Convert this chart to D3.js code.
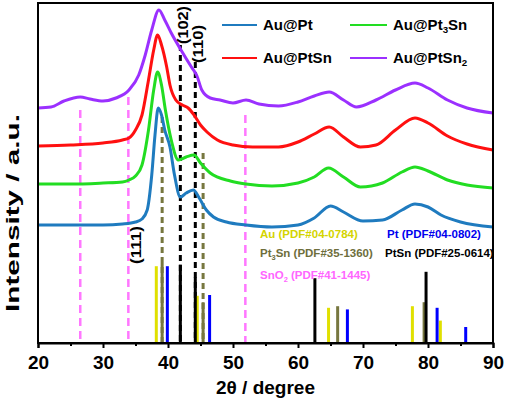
<!DOCTYPE html>
<html>
<head>
<meta charset="utf-8">
<script src="https://cdn.jsdelivr.net/npm/d3@7"></script>
<style>
  body { margin: 0; background: #fff; }
  text { font-family: "Liberation Sans", Arial, sans-serif; font-weight: bold; }
</style>
</head>
<body>
<div id="chart"></div>
<script>
// XRD patterns, 2theta in degrees, intensity in arbitrary units (offset stacked)
var twoTheta = [20, 25, 30, 33, 35, 36, 36.8, 37.5, 38, 38.5, 39, 39.5, 40.3, 41, 41.9, 42.8, 43.9, 44.8, 45.9, 47, 49, 52, 56, 60, 62.5, 65, 67, 70, 73, 76, 78, 80, 82, 85, 90];
var auPt = [118, 118, 118, 119, 121, 124, 133, 168, 208, 235, 228, 213, 196, 168, 146, 150, 153, 145, 133, 126, 121, 118, 116, 118, 125, 137, 131, 122, 123, 133, 139, 136, 128, 121, 116];

var twoThetaPt3Sn = [20, 25, 30, 33, 34, 35, 36, 37, 37.8, 38.4, 39, 39.6, 40.5, 41.6, 42.8, 44, 45, 46.5, 49.6, 52, 56, 60, 62.5, 64.7, 67, 69.6, 73, 76, 78, 80, 83, 86, 90];
var auPt3Sn = [159, 159, 160, 161, 163, 167, 178, 213, 253, 271, 258, 233, 203, 183, 186, 188, 180, 170, 162, 159, 157, 160, 166, 175, 166, 156, 160, 171, 176, 172, 163, 158, 155];

var twoThetaPtSn = [20, 25, 30, 33, 34, 35, 36, 37, 37.8, 38.4, 39, 39.8, 40.3, 41.2, 42.2, 43.1, 44, 45, 46, 47.6, 50, 53, 57, 60, 62.5, 64.8, 67, 69.6, 72, 75, 78, 80, 83, 86, 90];
var auPtSn = [197, 198, 200, 203, 205, 213, 228, 263, 293, 308, 298, 276, 258, 243, 238, 235, 228, 218, 211, 203, 198, 196, 196, 201, 209, 216, 206, 196, 198, 213, 225, 220, 207, 199, 193];

var twoThetaPtSn2 = [20, 22, 24, 26.5, 28, 30, 32, 34, 35.5, 36.5, 37.5, 38.6, 39.5, 40.5, 42, 43.6, 44.4, 45.2, 46.5, 48, 50, 52, 54, 57, 60, 62.5, 64.8, 67, 69, 72, 75, 78, 80, 83, 86, 90];
var auPtSn2 = [235, 236, 242, 246, 244, 242, 245, 253, 268, 288, 313, 333, 323, 310, 293, 276, 268, 253, 245, 243, 240, 243, 239, 237, 241, 247, 251, 243, 236, 243, 253, 260, 255, 243, 235, 230];

var seriesNames = ["Au@Pt", "Au@Pt3Sn", "Au@PtSn", "Au@PtSn2"];
var seriesColors = ["#1f7bbf", "#22dd22", "#ff1010", "#9b30ff"];

// standard patterns: positions and relative stick intensities (0-100)
var auPos = [38.2, 44.5, 64.7, 77.6, 81.9];
var auInt = [96, 59, 44, 46, 28];
var ptPos = [39.9, 46.4, 67.6, 81.4, 85.8];
var ptInt = [96, 60, 42, 44, 20];
var pt3SnPos = [39.1, 45.4, 66.1, 79.4];
var pt3SnInt = [100, 51, 46, 51];
var ptSnPos = [41.9, 44.2, 62.6, 79.7];
var ptSnInt = [98, 82, 81, 89];
var sno2Pos = [26.5, 33.9, 51.9];

// dashed guide lines: position, top (curve units)
var guidePos = [41.9, 44.2, 39.1, 45.4];
var guideTop = [298, 281, 226, 190];
var sno2Top = [233, 246, 228];

var refLabels = ["Au (PDF#04-0784)", "Pt (PDF#04-0802)", "Pt3Sn (PDF#35-1360)", "PtSn (PDF#25-0614)", "SnO2 (PDF#41-1445)"];
var xTicks = [20, 30, 40, 50, 60, 70, 80, 90];
var xMinor = [25, 35, 45, 55, 65, 75, 85];

var width = 505, height = 399;
var margin = {left: 38, right: 12, top: 3, bottom: 56};

var svg = d3.select("#chart").append("svg")
    .attr("width", width)
    .attr("height", height);

var x = d3.scaleLinear().domain([20, 90]).range([margin.left, width - margin.right]);
var y = d3.scaleLinear().domain([0, 340]).range([height - margin.bottom, margin.top]);
var yStick = d3.scaleLinear().domain([0, 100]).range([height - margin.bottom, height - margin.bottom - 80]);

// SnO2 dashed guides
svg.append("g").selectAll("line")
    .data(sno2Pos)
    .enter().append("line")
    .attr("x1", d => x(d)).attr("x2", d => x(d))
    .attr("y1", (d, i) => y(sno2Top[i]))
    .attr("y2", y(0))
    .attr("stroke", "#ff77ff")
    .attr("stroke-width", 2.5)
    .attr("stroke-dasharray", "8,5");

// dashed guides for PtSn (black) and Pt3Sn (olive)
var guideColors = ["#000", "#000", "#77773f", "#77773f"];
svg.append("g").selectAll("line")
    .data(guidePos)
    .enter().append("line")
    .attr("x1", d => x(d)).attr("x2", d => x(d))
    .attr("y1", (d, i) => y(guideTop[i]))
    .attr("y2", y(0))
    .attr("stroke", (d, i) => guideColors[i])
    .attr("stroke-width", 3)
    .attr("stroke-dasharray", "6,4");

// curves
var curves = [
    [twoTheta, auPt],
    [twoThetaPt3Sn, auPt3Sn],
    [twoThetaPtSn, auPtSn],
    [twoThetaPtSn2, auPtSn2]
];
var line = d3.line()
    .x(d => x(d[0]))
    .y(d => y(d[1]))
    .curve(d3.curveMonotoneX);

curves.forEach(function(c, i) {
    svg.append("path")
        .datum(c[0].map((t, j) => [t, c[1][j]]))
        .attr("fill", "none")
        .attr("stroke", seriesColors[i])
        .attr("stroke-width", 3)
        .attr("stroke-linejoin", "round")
        .attr("d", line);
});

// stick patterns
function sticks(pos, inten, color) {
    svg.append("g").selectAll("line")
        .data(pos)
        .enter().append("line")
        .attr("x1", d => x(d)).attr("x2", d => x(d))
        .attr("y1", yStick(0))
        .attr("y2", (d, i) => yStick(inten[i]))
        .attr("stroke", color)
        .attr("stroke-width", 3);
}
sticks(auPos, auInt, "#e0e000");
sticks(pt3SnPos, pt3SnInt, "#77773f");
sticks(ptPos, ptInt, "#0000ff");
sticks(ptSnPos, ptSnInt, "#000");

// first digit in the first word becomes a subscript (Pt3Sn, SnO2 ...)
function addSub(t, s) {
    var first = s.split(" ")[0];
    var sub = first.match(/^([A-Za-z@]+?)(\d)(.*)$/);
    if (sub) {
        t.append("tspan").text(sub[1]);
        t.append("tspan").text(sub[2]).attr("font-size", "0.65em").attr("dy", 3);
        t.append("tspan").text(sub[3] + s.slice(first.length)).attr("dy", -3);
    } else {
        t.text(s);
    }
}

// reference labels
var refColors = ["#d4d400", "#0000ee", "#6e6e3c", "#000", "#ff66ff"];
var refX = [260, 387, 260, 385, 260];
var refY = [238, 238, 257, 257, 279];
refLabels.forEach(function(s, i) {
    var t = svg.append("text")
        .attr("x", refX[i]).attr("y", refY[i])
        .attr("font-size", 11.5)
        .attr("fill", refColors[i]);
    addSub(t, s);
});

// peak labels
var peakLabels = ["(102)", "(110)", "(111)"];
var peakX = [183, 198, 136];
var peakY = [25, 44, 245];
peakLabels.forEach(function(s, i) {
    svg.append("text")
        .attr("transform", "translate(" + (peakX[i] + 5) + "," + peakY[i] + ") rotate(-90)")
        .attr("text-anchor", "middle")
        .attr("font-size", 14)
        .attr("textLength", 38)
        .attr("lengthAdjust", "spacingAndGlyphs")
        .text(s);
});

// frame
svg.append("rect")
    .attr("x", margin.left).attr("y", margin.top)
    .attr("width", width - margin.right - margin.left)
    .attr("height", height - margin.bottom - margin.top)
    .attr("fill", "none")
    .attr("stroke", "#000")
    .attr("stroke-width", 2);

// x axis
var xAxis = svg.append("g")
    .attr("transform", "translate(0," + y(0) + ")")
    .call(d3.axisBottom(x).tickValues(xTicks).tickSize(5).tickFormat(d3.format("d")));
xAxis.select(".domain").attr("stroke-width", 2);
xAxis.selectAll(".tick line").attr("stroke-width", 2);
xAxis.selectAll(".tick text")
    .attr("font-size", 19)
    .attr("font-family", "Liberation Sans, Arial, sans-serif")
    .attr("font-weight", "bold")
    .attr("dy", "0.95em");
svg.append("g")
    .attr("transform", "translate(0," + y(0) + ")")
    .call(d3.axisBottom(x).tickValues(xMinor).tickSize(3).tickFormat(""))
    .call(g => g.select(".domain").remove())
    .selectAll(".tick line").attr("stroke-width", 2);

// axis titles
svg.append("text")
    .attr("x", (x(20) + x(90)) / 2)
    .attr("y", 394)
    .attr("text-anchor", "middle")
    .attr("font-size", 19)
    .text("2\u03B8 / degree");

svg.append("text")
    .attr("transform", "translate(19,213) rotate(-90)")
    .attr("text-anchor", "middle")
    .attr("font-size", 19)
    .attr("textLength", 198)
    .attr("lengthAdjust", "spacingAndGlyphs")
    .text("Intensity / a.u.");

// legend
var legX = [222, 350, 222, 350];
var legY = [25, 25, 58, 58];
var legLen = [35, 37, 35, 37];
seriesNames.forEach(function(s, i) {
    svg.append("line")
        .attr("x1", legX[i]).attr("x2", legX[i] + legLen[i])
        .attr("y1", legY[i]).attr("y2", legY[i])
        .attr("stroke", seriesColors[i])
        .attr("stroke-width", 2);
    var t = svg.append("text")
        .attr("x", legX[i] + legLen[i] + 6)
        .attr("y", legY[i] + 5)
        .attr("font-size", 15)
        .attr("fill", "#000");
    addSub(t, s);
});
</script>
</body>
</html>
